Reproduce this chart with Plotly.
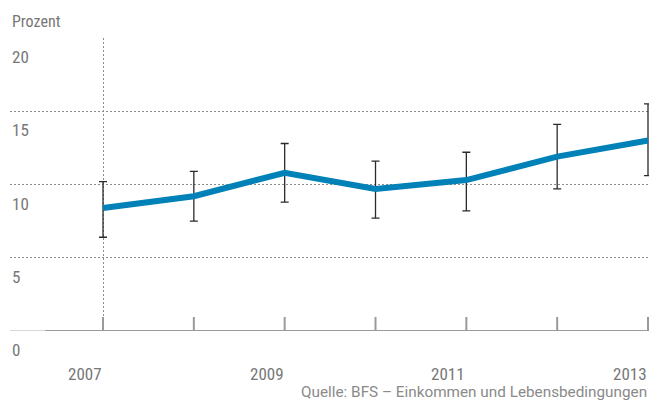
import plotly.graph_objects as go

# Armutsquote mit Vertrauensintervall
years = [2007, 2008, 2009, 2010, 2011, 2012, 2013]
values = [8.4, 9.2, 10.8, 9.7, 10.3, 11.9, 13.0]
ci_low = [6.4, 7.5, 8.8, 7.7, 8.2, 9.7, 10.6]
ci_high = [10.2, 10.9, 12.8, 11.6, 12.2, 14.1, 15.5]

y_ticks = [0, 5, 10, 15, 20]
x_labels = [2007, 2009, 2011, 2013]
minor_years = [2008, 2010, 2012]

unit_label = "Prozent"
source_text = "Quelle: BFS – Einkommen und Lebensbedingungen"

FONT = "Roboto Condensed, Liberation Sans Narrow, DejaVu Sans Condensed, Roboto, sans-serif"
TEXT_COLOR = "#777777"
AXIS_COLOR = "#9a9a9a"
GRID_COLOR = "#8c8c8c"
LINE_COLOR = "#0081b8"

err_plus = [h - v for h, v in zip(ci_high, values)]
err_minus = [v - l for v, l in zip(values, ci_low)]

fig = go.Figure()
fig.add_trace(go.Scatter(
    x=years, y=values, mode="lines",
    line=dict(color=LINE_COLOR, width=6),
    error_y=dict(type="data", symmetric=False, array=err_plus, arrayminus=err_minus,
                 color="#2a2a2a", thickness=1.3, width=4),
    hoverinfo="skip", showlegend=False,
))

shapes = []
# baseline
shapes.append(dict(type="line", xref="paper", yref="y", x0=0, x1=1, y0=0, y1=0,
                   line=dict(color="#b0b0b0", width=1), layer="above"))
shapes.append(dict(type="line", xref="paper", yref="y", x0=0.055, x1=1, y0=0, y1=0,
                   line=dict(color=AXIS_COLOR, width=2.2), layer="above"))
# tick marks on the baseline
for yr in x_labels:
    shapes.append(dict(type="line", xref="x", yref="y", ysizemode="pixel", yanchor=0,
                       x0=yr, x1=yr, y0=-25, y1=14,
                       line=dict(color=AXIS_COLOR, width=2), layer="above"))
for yr in minor_years:
    shapes.append(dict(type="line", xref="x", yref="y", ysizemode="pixel", yanchor=0,
                       x0=yr, x1=yr, y0=0, y1=14,
                       line=dict(color=AXIS_COLOR, width=2), layer="above"))

annotations = []
for t in y_ticks:
    annotations.append(dict(x=0, xref="paper", y=t, yref="y", text=str(t),
                            xanchor="left", yanchor="middle", yshift=-19, showarrow=False,
                            font=dict(family=FONT, size=17, color=TEXT_COLOR)))
for yr in x_labels:
    annotations.append(dict(x=yr, xref="x", y=0, yref="y", text=str(yr),
                            xanchor="right", yanchor="middle", yshift=-43, xshift=1,
                            showarrow=False,
                            font=dict(family=FONT, size=17, color=TEXT_COLOR)))
annotations.append(dict(x=0, xref="paper", y=20, yref="y", text=unit_label,
                        xanchor="left", yanchor="middle", yshift=17, showarrow=False,
                        font=dict(family=FONT, size=16, color=TEXT_COLOR)))
annotations.append(dict(x=1, xref="paper", y=0, yref="y", text=source_text,
                        xanchor="right", yanchor="middle", yshift=-61, showarrow=False,
                        font=dict(family="Roboto, sans-serif", size=15.3, color="#8a8a8a")))

fig.update_layout(
    width=649, height=403,
    margin=dict(l=10, r=0, t=38, b=72),
    paper_bgcolor="white", plot_bgcolor="white",
    shapes=shapes, annotations=annotations,
    xaxis=dict(range=[2005.976, 2013.011], tickvals=[2007, 2013], showticklabels=False,
               showgrid=True, gridcolor=GRID_COLOR, gridwidth=1, griddash="2px,2px",
               zeroline=False, showline=False, ticks=""),
    yaxis=dict(range=[0, 20], tickvals=[5, 10, 15, 20], showticklabels=False,
               showgrid=True, gridcolor=GRID_COLOR, gridwidth=1, griddash="2px,2px",
               zeroline=False, showline=False, ticks=""),
)

fig.write_html("out.html")
